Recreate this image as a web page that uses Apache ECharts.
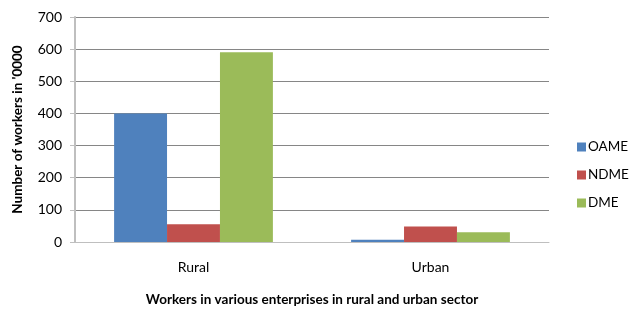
<!DOCTYPE html>
<html><head><meta charset="utf-8">
<script src="https://cdn.jsdelivr.net/npm/echarts@6/dist/echarts.min.js"></script>
<style>html,body{margin:0;padding:0;background:#fff}#c{width:632px;height:317px}</style>
</head><body><div id="c"></div>
<script>
const categories = ['Rural', 'Urban'];
const seriesNames = ['OAME', 'NDME', 'DME'];
const oame = [400, 7];
const ndme = [55, 48];
const dme = [590, 30];
const colors = ['#4F81BD', '#C0504D', '#9BBB59'];
const font = 'Lato, "Open Sans", sans-serif';
const chart = echarts.init(document.getElementById('c'), null, {renderer: 'canvas'});
const data = [oame, ndme, dme];
chart.setOption({
  animation: false,
  textStyle: {fontFamily: font},
  grid: {left: 75, right: 83, top: 17, bottom: 75, containLabel: false, outerBoundsMode: 'none'},
  legend: {
    orient: 'vertical', left: 572, top: 135, itemWidth: 9, itemHeight: 9, itemGap: 14,
    icon: 'rect', data: seriesNames,
    textStyle: {fontSize: 13.5, color: '#000', fontFamily: font, padding: [0, 0, 0, -3]}
  },
  xAxis: {
    type: 'category', data: categories,
    name: 'Workers in various enterprises in rural and urban sector',
    nameLocation: 'middle', nameGap: 51,
    nameTextStyle: {fontWeight: 'bold', fontSize: 13.5, color: '#000', fontFamily: font},
    axisLine: {lineStyle: {color: '#bfbfbf', width: 1}},
    axisTick: {show: false},
    axisLabel: {fontSize: 14, color: '#000', margin: 18, fontFamily: font}
  },
  yAxis: {
    type: 'value', min: 0, max: 700, interval: 100,
    name: "Number of workers in '0000", nameLocation: 'middle', nameGap: 50,
    nameTextStyle: {fontWeight: 'bold', fontSize: 13.5, color: '#000', fontFamily: font},
    axisLine: {show: true, lineStyle: {color: '#bfbfbf', width: 2}},
    axisTick: {show: true, length: 5, inside: false, lineStyle: {color: '#bfbfbf'}},
    axisLabel: {fontSize: 14, color: '#000', margin: 13, fontFamily: font},
    splitLine: {lineStyle: {color: '#868686', width: 1}}
  },
  series: seriesNames.map((n, i) => ({
    name: n, type: 'bar', data: data[i], barGap: '0%', barCategoryGap: '33%',
    itemStyle: {color: colors[i]}
  }))
});
</script></body></html>
